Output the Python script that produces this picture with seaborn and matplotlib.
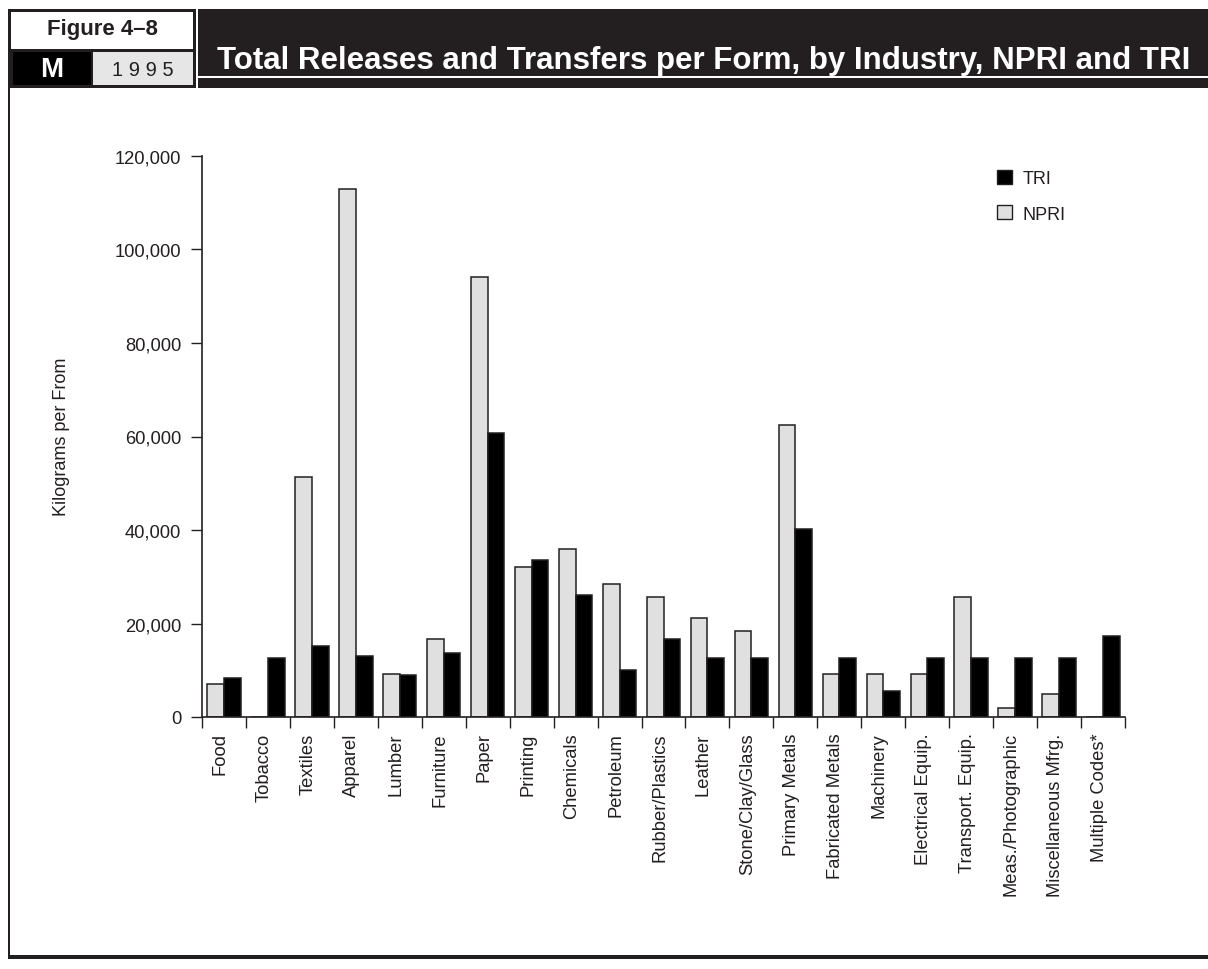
import pandas as pd
import numpy as np
import matplotlib.pyplot as plt
import matplotlib.transforms as mtransforms
import seaborn as sns
from matplotlib.patches import Rectangle, Patch

# ---------------------------
# DATA
# ---------------------------
industries = ["Food", "Tobacco", "Textiles", "Apparel", "Lumber", "Furniture", "Paper",
              "Printing", "Chemicals", "Petroleum", "Rubber/Plastics", "Leather",
              "Stone/Clay/Glass", "Primary Metals", "Fabricated Metals", "Machinery",
              "Electrical Equip.", "Transport. Equip.", "Meas./Photographic",
              "Miscellaneous Mfrg.", "Multiple Codes*"]
npri = [7000, 0, 51300, 112900, 9300, 16700, 94200, 32000, 36000, 28500, 25600, 21200,
        18400, 62500, 9300, 9100, 9300, 25700, 2000, 5000, 0]
tri = [8400, 12700, 15100, 13000, 8900, 13600, 60800, 33500, 26100, 10100, 16700, 12600,
       12700, 40200, 12700, 5500, 12700, 12700, 12700, 12700, 17300]
y_ticks = [0, 20000, 40000, 60000, 80000, 100000, 120000]

df = pd.DataFrame({"industry": industries * 2,
                   "value": npri + tri,
                   "source": ["NPRI"] * len(npri) + ["TRI"] * len(tri)})

# ---------------------------
# STYLE
# ---------------------------
sns.set_style("white")
plt.rcParams['font.family'] = ['Liberation Sans Narrow', 'Liberation Sans', 'DejaVu Sans']
dark = "#231f20"
light = "#e0e0e0"

W, H = 1208, 970
fig = plt.figure(figsize=(W / 100, H / 100), dpi=100)

def fx(px):
    return px / W

def fy(py):
    return 1 - py / H

# ---------------------------
# CHART
# ---------------------------
ax = fig.add_axes([fx(202), fy(718), fx(1125) - fx(202), fy(157) - fy(718)])
sns.barplot(data=df, x="industry", y="value", hue="source", hue_order=["NPRI", "TRI"],
            palette={"NPRI": light, "TRI": "black"}, width=0.76, ax=ax,
            edgecolor=dark, linewidth=1.1, legend=False)

ax.set_ylim(0, 120000)
ax.set_xlim(-0.5, len(industries) - 0.5)
ax.set_yticks(y_ticks)
ax.set_yticklabels([f"{v:,}" for v in y_ticks], fontsize=13.2, color=dark)
ax.set_xticks(np.arange(len(industries)))
ax.set_xticklabels(industries, rotation=90, fontsize=13.2, color=dark)
ax.tick_params(axis="x", length=0, pad=11)
ax.tick_params(axis="y", length=8, width=1, color=dark, direction="out", pad=7, left=True)
# labels sit a little left of the bar pair
shift = mtransforms.ScaledTranslation(-4 / 100, 0, fig.dpi_scale_trans)
for lab in ax.get_xticklabels():
    lab.set_transform(lab.get_transform() + shift)
# boundary ticks between categories
ax.set_xticks(np.arange(len(industries) + 1) - 0.5, minor=True)
ax.tick_params(axis="x", which="minor", length=8, width=1, color=dark, direction="out", bottom=True)
ax.set_xlabel("")
ax.set_ylabel("")
for s in ["top", "right"]:
    ax.spines[s].set_visible(False)
for s in ["left", "bottom"]:
    ax.spines[s].set_color(dark)
    ax.spines[s].set_linewidth(1.2)

fig.text(fx(62), fy(437), "Kilograms per From", rotation=90, ha="center", va="center",
         fontsize=13, color=dark)

handles = [Patch(facecolor="black", edgecolor=dark, label="TRI"),
           Patch(facecolor=light, edgecolor=dark, label="NPRI")]
ax.legend(handles=handles, loc="upper left", bbox_to_anchor=(fx(981), fy(155)),
          bbox_transform=fig.transFigure, frameon=False, fontsize=13,
          handlelength=0.8, handleheight=0.8, labelspacing=1.0, handletextpad=0.6,
          labelcolor=dark)

# ---------------------------
# HEADER AND FRAME
# ---------------------------
def box(x0, y0, x1, y1, color):
    fig.patches.append(Rectangle((fx(x0), fy(y1)), fx(x1) - fx(x0), fy(y0) - fy(y1),
                                 transform=fig.transFigure, facecolor=color,
                                 edgecolor="none", zorder=0))

box(8, 10, W, 89, dark)
box(11, 13, 193, 50, "white")
box(13, 53, 91, 86, "black")
box(93, 53, 193, 86, "#e6e6e6")
box(196, 10, 198, 89, "white")
box(198, 77, W, 79, "white")
# frame around the chart area
box(8, 89, 10, 960, dark)
box(8, 956, W, 960, dark)

fig.text(fx(102), fy(30), "Figure 4\u20138", ha="center", va="center", fontsize=16,
         fontweight="bold", color=dark)
fig.text(fx(52), fy(70), "M", ha="center", va="center", fontsize=20,
         fontweight="bold", color="white", family=["Liberation Sans", "DejaVu Sans"])
fig.text(fx(143), fy(70), "1 9 9 5", ha="center", va="center", fontsize=14.5, color=dark)
fig.text(fx(704), fy(61), "Total Releases and Transfers per Form, by Industry, NPRI and TRI",
         ha="center", va="center", fontsize=22.5, fontweight="bold", color="white")

fig.savefig("out.png", dpi=100)
